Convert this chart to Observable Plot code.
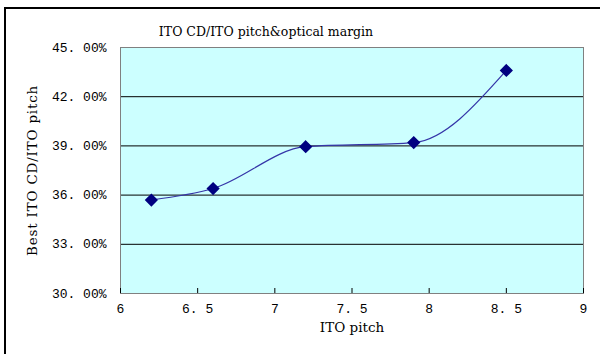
<!DOCTYPE html>
<html>
<head>
<meta charset="utf-8">
<script src="https://cdn.jsdelivr.net/npm/d3@7"></script>
<script src="https://cdn.jsdelivr.net/npm/@observablehq/plot@0.6"></script>
<style>
  html, body { margin: 0; padding: 0; background: #fff; }
  #wrap { position: relative; width: 600px; height: 354px; overflow: hidden; }
  #wrap svg { position: absolute; left: 0; top: 0; }
  #border { position: absolute; left: 4px; top: 7px; width: 700px; height: 400px;
            border-left: 2px solid #000; border-top: 2px solid #000; pointer-events: none; }
  .ylab text { letter-spacing: 0.8px; }
</style>
</head>
<body>
<div id="wrap"><div id="border"></div></div>
<script>
// ITO pitch vs. best ITO CD / ITO pitch ratio
const pitch = [6.2, 6.6, 7.2, 7.9, 8.5];
const ratio = [0.357, 0.364, 0.3895, 0.392, 0.436];
const xTicks = [6, 6.5, 7, 7.5, 8, 8.5, 9];
const yTicks = [0.30, 0.33, 0.36, 0.39, 0.42, 0.45];

const titleText = "ITO CD/ITO pitch&optical margin";
const xLabel = "ITO pitch";
const yLabel = "Best ITO CD/ITO pitch";

const data = pitch.map((p, i) => ({pitch: p, ratio: ratio[i]}));
const fmtX = d => (Number.isInteger(d) ? String(d) : d.toFixed(1).replace(".", ". "));
const fmtY = d => (d * 100).toFixed(2).replace(".", ". ") + "%";

const chart = Plot.plot({
  width: 600,
  height: 354,
  marginLeft: 120,
  marginRight: 17,
  marginTop: 47,
  marginBottom: 61,
  style: {fontFamily: "DejaVu Serif", fontSize: "13px", background: "transparent", color: "#000"},
  x: {domain: [6, 9]},
  y: {domain: [0.30, 0.45]},
  marks: [
    Plot.frame({fill: "#ccffff", stroke: "none"}),
    Plot.gridY(yTicks.slice(1, -1), {stroke: "#000", strokeOpacity: 1, strokeWidth: 1}),
    Plot.frame({stroke: "#808080", strokeWidth: 1}),
    Plot.axisX(xTicks, {tickSize: -5, tickFormat: fmtX, tickPadding: 15, fontFamily: "Liberation Mono", fontSize: 13, label: null, stroke: "#000"}),
    Plot.axisY(yTicks, {tickSize: 0, tickFormat: fmtY, tickPadding: 14, fontFamily: "Liberation Mono", fontSize: 13, label: null}),
    Plot.line(data, {x: "pitch", y: "ratio", curve: "monotone-x", stroke: "#3535a8", strokeWidth: 1.2}),
    Plot.dot(data, {x: "pitch", y: "ratio", symbol: "diamond2", r: 5, fill: "#000080", stroke: "#000080"}),
    Plot.text([titleText], {frameAnchor: "top", dy: -20, dx: -86, fontSize: 12.5, fontFamily: "DejaVu Serif"}),
    Plot.text([xLabel], {frameAnchor: "bottom", dy: 38, fontSize: 13.5, fontFamily: "DejaVu Serif"}),
    Plot.text([yLabel], {frameAnchor: "left", textAnchor: "middle", dx: -88, rotate: -90, fontSize: 13.5, fontFamily: "DejaVu Serif", className: "ylab"})
  ]
});
document.getElementById("wrap").prepend(chart);
</script>
</body>
</html>
